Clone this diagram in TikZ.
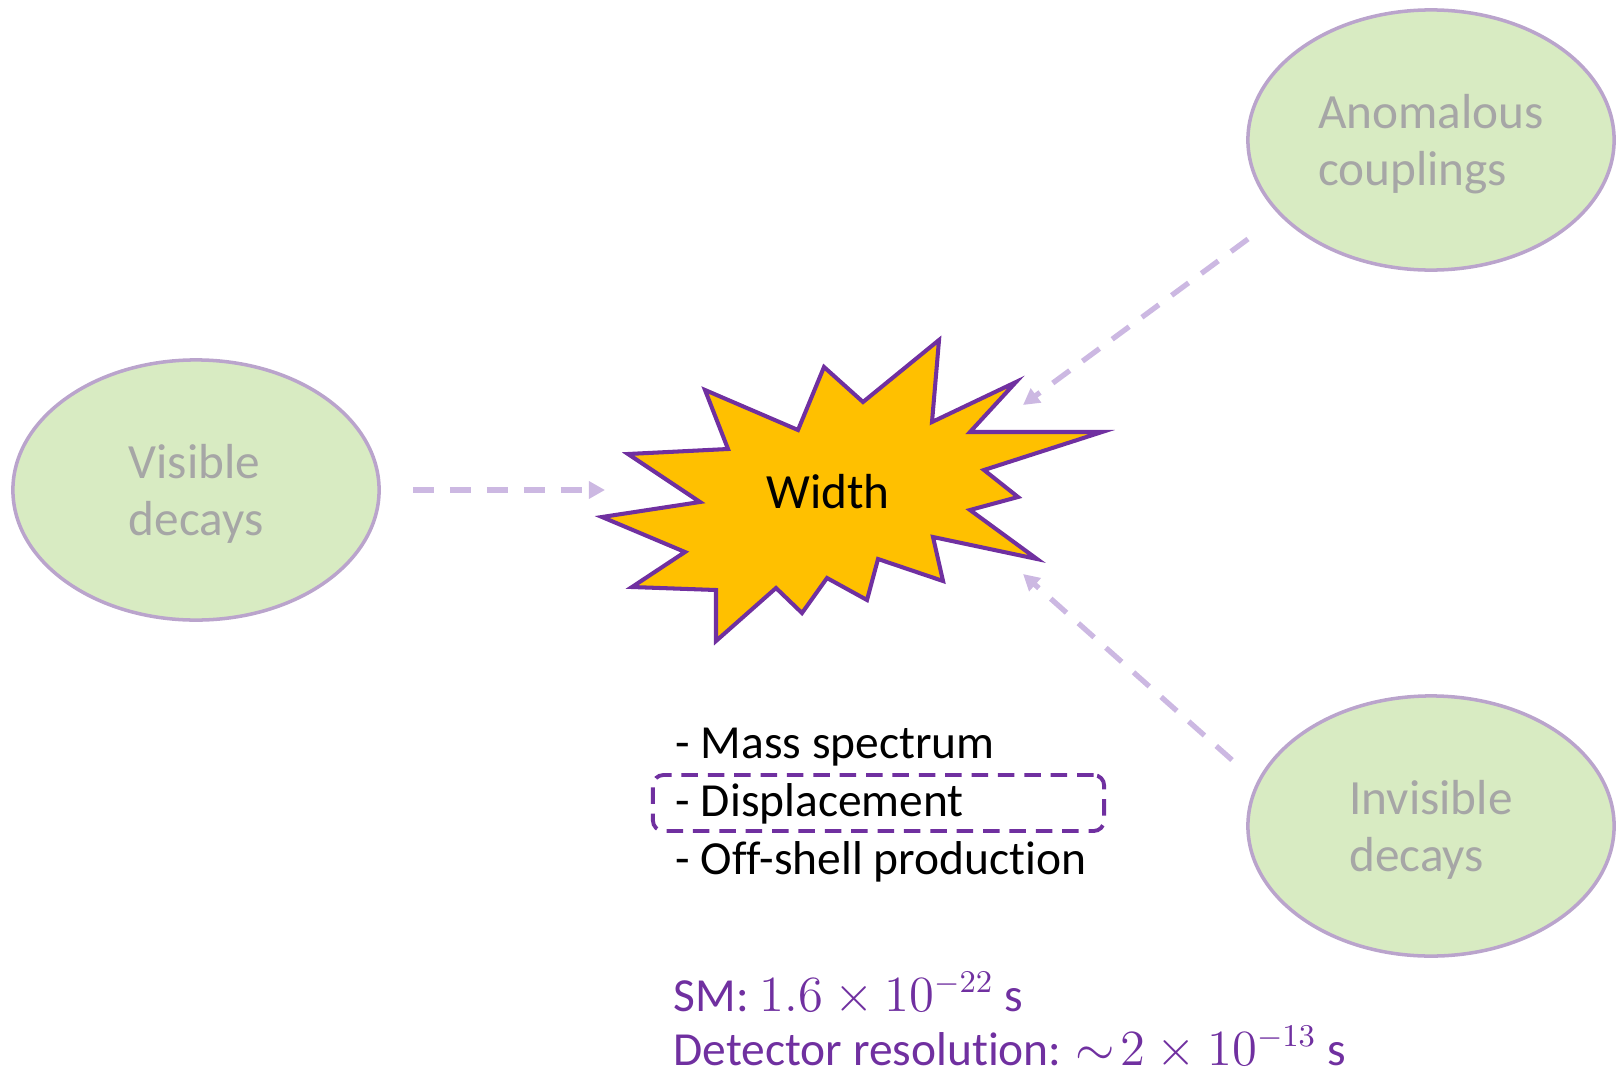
\documentclass[tikz,border=0pt]{standalone}
\usepackage{fontspec}
\setmainfont{Carlito}[Ligatures=NoCommon]
\usepackage{tikz}
\usetikzlibrary{arrows.meta, positioning, shapes.geometric}
\definecolor{primary}{RGB}{112,48,160}
\definecolor{lilac}{RGB}{204,184,226}
\definecolor{rim}{RGB}{186,164,204}
\definecolor{palegreen}{RGB}{216,235,194}
\definecolor{faded}{RGB}{166,166,166}
\definecolor{burst}{RGB}{255,192,0}
\tikzset{
  topic/.style={
    ellipse, draw=rim, line width=1pt, fill=palegreen,
    minimum width=3.66cm, minimum height=2.6cm, inner sep=0pt,
    align=left, text=faded, text depth=0pt, font=\fontsize{14}{16.3}\selectfont
  },
  feed/.style={draw=lilac, line width=1.5pt, dash pattern=on 6pt off 4.5pt,
    -{Triangle[length=4.6pt, width=4.8pt]}},
  probe/.style={anchor=base west, inner sep=0pt, font=\fontsize{13.5}{16}\selectfont},
  timing/.style={probe, text=primary},
  dashbox/.style={draw=primary, line width=1.1pt, dash pattern=on 4.7pt off 2.8pt,
    rounded corners=3pt, minimum width=4.51cm, minimum height=0.56cm, inner sep=0pt},
}

\begin{document}
\begin{tikzpicture}[x=0.01cm, y=-0.01cm]
  \useasboundingbox (0,0) rectangle (1616,1073);

  % the three side topics
  \node[topic] (vis) at (196,490) {Visible\\decays};
  \node[topic] (anom) at (1431,140) {Anomalous\\couplings};
  \node[topic] (invis) at (1431,826) {Invisible\\decays};

  % the burst
  \draw[primary, fill=burst, line width=1.15pt]
    (705,390) -- (798,430) -- (824,367) -- (863,402) -- (939,340) -- (932,422)
    -- (1016,382) -- (970,432) -- (1102,432) -- (984,470) -- (1018,497)
    -- (970,510) -- (1037,559) -- (933,537) -- (943,581) -- (878,559)
    -- (867,600) -- (827,578) -- (802,613) -- (776,588) -- (716,641)
    -- (716,590) -- (632,587) -- (685,552) -- (602,517) -- (700,502)
    -- (628,454) -- (728,449) -- cycle;
  \node[font=\fontsize{14}{16}\selectfont] (W) at (828,492) {Width};

  % arrow ends
  \coordinate (visA) at (413,490);
  \coordinate (visB) at (605,490);
  \coordinate (anomA) at (1248,239);
  \coordinate (anomB) at (1023,405);
  \coordinate (invA) at (1232,760);
  \coordinate (invB) at (1023,574);
  \draw[feed] (visA) -- (visB);
  \draw[feed] (anomA) -- (anomB);
  \draw[feed] (invA) -- (invB);

  % what the width shows up in
  \node[dashbox] (box) at (878.5,803) {};
  \node[probe] (mass) at (675,758) {- Mass spectrum};
  \node[probe] (disp) at (675,816) {- Displacement};
  \node[probe] (off) at (675,874) {- Off-shell production};

  \node[timing] (sm) at (673,1011) {SM: $1.6\times10^{-22}$ s};
  \node[timing] (det) at (673,1065) {Detector resolution: $\sim\!2\times10^{-13}$ s};
\end{tikzpicture}
\end{document}
